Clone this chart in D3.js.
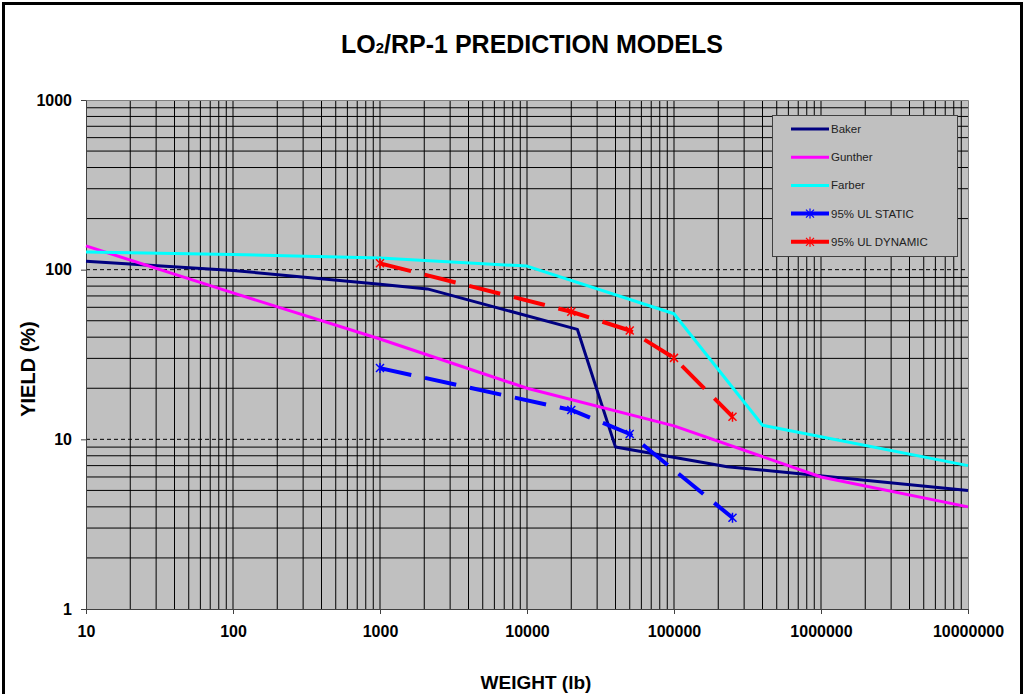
<!DOCTYPE html>
<html>
<head>
<meta charset="utf-8">
<script src="https://cdn.jsdelivr.net/npm/d3@7"></script>
<style>
  html, body { margin: 0; padding: 0; background: #fff; }
  svg { display: block; font-family: "Liberation Sans", Arial, sans-serif; }
</style>
</head>
<body>
<svg id="chart" width="1029" height="694"></svg>
<script>
// data (weight in lb, yield in %)
const bakerW = [10, 100, 1000, 2100, 22000, 40000, 230000, 10000000];
const bakerY = [112, 99, 82, 77, 44.5, 9.0, 6.9, 5.0];

const guntherW = [10, 100, 1000, 10000, 100000, 1000000, 10000000];
const guntherY = [138, 73, 39, 20, 12, 6, 4];

const farberW = [10, 100, 1000, 10000, 100000, 400000, 10000000];
const farberY = [127, 123, 117, 105, 55, 12.1, 7];

const staticW = [1000, 20000, 50000, 250000];
const staticY = [26.3, 14.9, 10.75, 3.45];

const dynamicW = [1000, 20000, 50000, 100000, 250000];
const dynamicY = [109, 56.5, 43.8, 30.2, 13.6];

const seriesNames = ["Baker", "Gunther", "Farber", "95% UL STATIC", "95% UL DYNAMIC"];
const xTicks = [10, 100, 1000, 10000, 100000, 1000000, 10000000];
const yTicks = [1, 10, 100, 1000];

const series = [
  { name: seriesNames[0], w: bakerW, v: bakerY, color: "#000080", width: 3, dash: null, marker: false },
  { name: seriesNames[1], w: guntherW, v: guntherY, color: "#FF00FF", width: 3, dash: null, marker: false },
  { name: seriesNames[2], w: farberW, v: farberY, color: "#00FFFF", width: 3, dash: null, marker: false },
  { name: seriesNames[3], w: staticW, v: staticY, color: "#0000FF", width: 4, dash: "32,14", marker: true },
  { name: seriesNames[4], w: dynamicW, v: dynamicY, color: "#FF0000", width: 4, dash: "32,14", marker: true }
];

const svg = d3.select("#chart");

// outer frame
svg.append("rect")
  .attr("x", 3.5).attr("y", 3.5)
  .attr("width", 1018).attr("height", 720)
  .attr("fill", "#fff")
  .attr("stroke", "#000")
  .attr("stroke-width", 3);

const plot = { left: 86, top: 100, right: 968, bottom: 609 };

const x = d3.scaleLog().domain([10, 1e7]).range([plot.left, plot.right]);
const y = d3.scaleLog().domain([1, 1000]).range([plot.bottom, plot.top]);

// plot background
svg.append("rect")
  .attr("x", plot.left).attr("y", plot.top)
  .attr("width", plot.right - plot.left)
  .attr("height", plot.bottom - plot.top)
  .attr("fill", "#C0C0C0");

const isMajor = v => Math.abs(Math.log10(v) - Math.round(Math.log10(v))) < 1e-9;

const grid = svg.append("g");

// vertical grid lines (all solid black)
grid.selectAll(".vgrid")
  .data(x.ticks().filter(v => v > 10 && v < 1e7))
  .enter().append("line")
  .attr("x1", d => x(d)).attr("x2", d => x(d))
  .attr("y1", plot.top).attr("y2", plot.bottom)
  .attr("stroke", "#000")
  .attr("stroke-width", 1);

// horizontal grid lines: minor solid, decades dashed
grid.selectAll(".hgrid")
  .data(y.ticks().filter(v => v > 1 && v < 1000))
  .enter().append("line")
  .attr("x1", plot.left).attr("x2", plot.right)
  .attr("y1", d => y(d)).attr("y2", d => y(d))
  .attr("stroke", "#000")
  .attr("stroke-width", 1)
  .attr("stroke-dasharray", d => isMajor(d) ? "4,3" : null);

// plot border (top / right)
svg.append("path")
  .attr("d", `M${plot.left},${plot.top + 0.5}H${plot.right + 0.5}V${plot.bottom}`)
  .attr("fill", "none")
  .attr("stroke", "#808080")
  .attr("stroke-width", 1);

// axes
const xAxis = svg.append("g")
  .attr("transform", `translate(0,${plot.bottom})`)
  .call(d3.axisBottom(x).tickValues(xTicks).tickFormat(d3.format("d")).tickSize(5).tickSizeOuter(0).tickPadding(12));

const yAxis = svg.append("g")
  .attr("transform", `translate(${plot.left},0)`)
  .call(d3.axisLeft(y).tickValues(yTicks).tickFormat(d3.format("d")).tickSize(5).tickSizeOuter(0).tickPadding(9));

[xAxis, yAxis].forEach(a => {
  a.select(".domain").attr("stroke", "#404040");
  a.selectAll(".tick line").attr("stroke", "#404040");
  a.selectAll(".tick text")
    .attr("fill", "#000")
    .attr("font-size", 16)
    .attr("font-weight", "bold")
    .attr("font-family", "'Liberation Sans', Arial, sans-serif");
});

// series
const line = d3.line().x(d => x(d[0])).y(d => y(d[1]));

const starPath = "M-4,-4L4,4M-4,4L4,-4M0,-5L0,5";

series.forEach(s => {
  const pts = s.w.map((w, i) => [w, s.v[i]]);
  svg.append("path")
    .datum(pts)
    .attr("d", line)
    .attr("fill", "none")
    .attr("stroke", s.color)
    .attr("stroke-width", s.width)
    .attr("stroke-dasharray", s.dash)
    .attr("stroke-linejoin", "round");
  if (s.marker) {
    svg.selectAll(null)
      .data(pts)
      .enter().append("path")
      .attr("transform", d => `translate(${x(d[0])},${y(d[1])})`)
      .attr("d", starPath)
      .attr("fill", "none")
      .attr("stroke", s.color)
      .attr("stroke-width", 1.5);
  }
});

// legend
const legend = svg.append("g").attr("transform", "translate(772,115)");
legend.append("rect")
  .attr("x", 0.5).attr("y", 0.5)
  .attr("width", 185).attr("height", 141)
  .attr("fill", "#C0C0C0")
  .attr("stroke", "#404040");

const items = legend.selectAll(".item")
  .data(series)
  .enter().append("g")
  .attr("transform", (d, i) => `translate(0,${14 + i * 28.2})`);

items.append("line")
  .attr("x1", 19).attr("x2", 57)
  .attr("y1", 0).attr("y2", 0)
  .attr("stroke", d => d.color)
  .attr("stroke-width", d => d.width);

items.filter(d => d.marker).append("path")
  .attr("transform", "translate(38,0)")
  .attr("d", starPath)
  .attr("fill", "none")
  .attr("stroke", d => d.color)
  .attr("stroke-width", 1.2);

items.append("text")
  .attr("x", 59).attr("y", 4)
  .attr("font-size", 11.5)
  .attr("fill", "#222")
  .text(d => d.name);

// title
const title = svg.append("text")
  .attr("x", 532).attr("y", 53)
  .attr("text-anchor", "middle")
  .attr("font-size", 25)
  .attr("font-weight", "bold");
title.append("tspan").text("LO");
title.append("tspan").attr("font-size", 15).text("2");
title.append("tspan").text("/RP-1 PREDICTION MODELS");

// axis titles
svg.append("text")
  .attr("x", 536).attr("y", 689)
  .attr("text-anchor", "middle")
  .attr("font-size", 19)
  .attr("font-weight", "bold")
  .text("WEIGHT (lb)");

svg.append("text")
  .attr("transform", "translate(35,369) rotate(-90)")
  .attr("text-anchor", "middle")
  .attr("font-size", 20)
  .attr("font-weight", "bold")
  .text("YIELD (%)");
</script>
</body>
</html>
